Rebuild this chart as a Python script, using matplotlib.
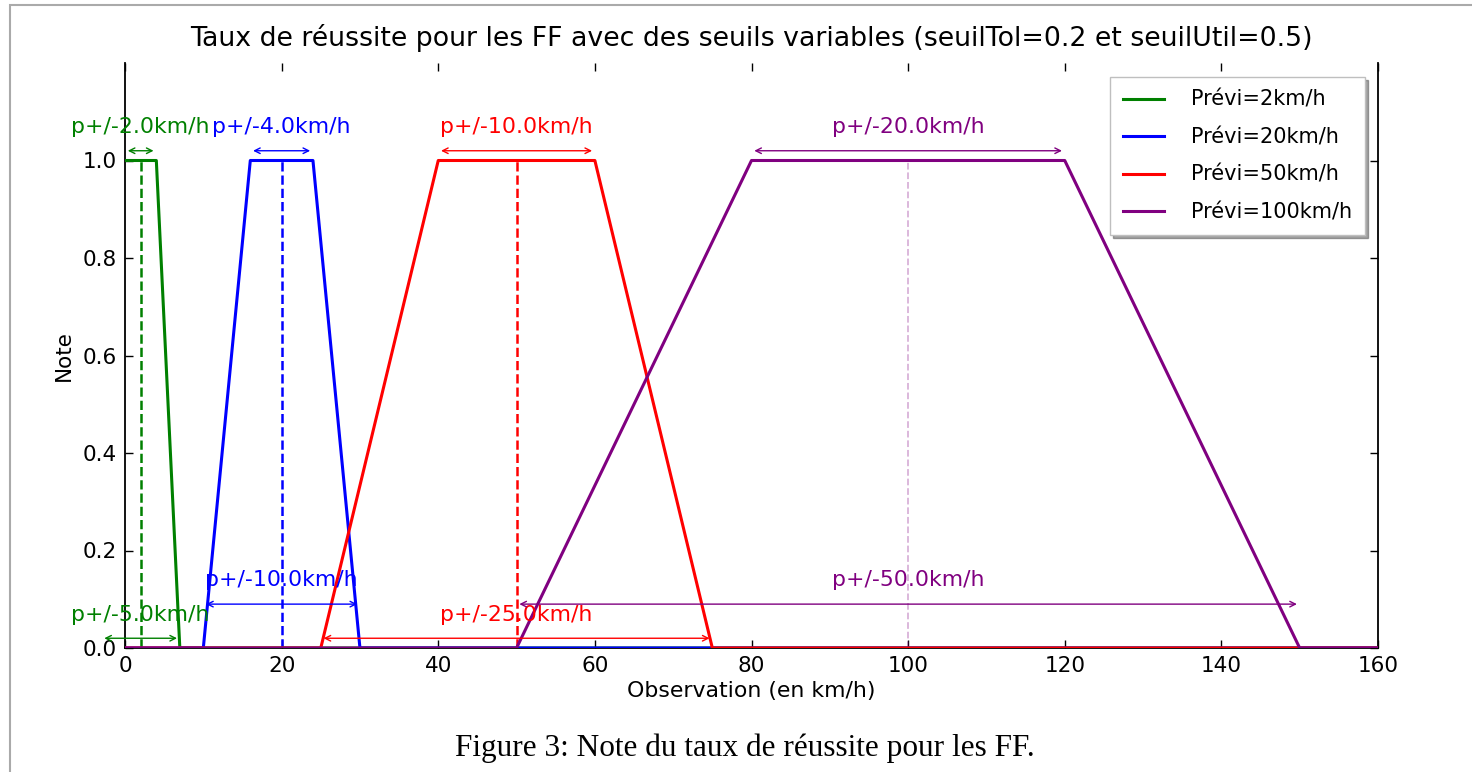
import numpy as np
import matplotlib
matplotlib.use("Agg")
import matplotlib.pyplot as plt
from matplotlib.patches import Rectangle

# ---- data ----
previ = [2, 20, 50, 100]                 # forecast values (km/h)
tol = [2.0, 4.0, 10.0, 20.0]             # tolerance half-width (note = 1)
util = [5.0, 10.0, 25.0, 50.0]           # utility half-width (note = 0)
colors = ["green", "blue", "red", "purple"]
labels = ["Prévi=2km/h", "Prévi=20km/h", "Prévi=50km/h", "Prévi=100km/h"]
arrow_top_y = [1.02, 1.02, 1.02, 1.02]
arrow_bot_y = [0.02, 0.09, 0.02, 0.09]
xticks = [0, 20, 40, 60, 80, 100, 120, 140, 160]
yticks = [0.0, 0.2, 0.4, 0.6, 0.8, 1.0]

plt.rcParams['font.family'] = ['DejaVu Sans']

W, H = 1472, 772
fig = plt.figure(figsize=(W / 100, H / 100), dpi=100)
ax = fig.add_axes([125 / W, 1 - 648 / H, (1378 - 125) / W, (648 - 63) / H])

x = np.linspace(0, 160, 3201)
for p, t, u, c, lab in zip(previ, tol, util, colors, labels):
    y = np.interp(x, [p - u, p - t, p + t, p + u], [0, 1, 1, 0], left=0, right=0)
    ax.plot(x, y, color=c, lw=2.2, label=lab, zorder=3)

for i, (p, t, u, c) in enumerate(zip(previ, tol, util, colors)):
    if c == "purple":
        ax.vlines(p, 0, 1, colors=c, linestyles="--", lw=1.3, alpha=0.3)
    else:
        ax.vlines(p, 0, 1, colors=c, linestyles="--", lw=1.8)
    ap = dict(arrowstyle="<->", color=c, lw=1.0, shrinkA=2, shrinkB=2)
    ax.annotate("", xy=(p - t, arrow_top_y[i]), xytext=(p + t, arrow_top_y[i]),
                arrowprops=ap, annotation_clip=False)
    ax.text(p, arrow_top_y[i] + 0.028, "p+/-%.1fkm/h" % t, color=c, ha="center",
            va="bottom", fontsize=15.8, clip_on=False)
    ax.annotate("", xy=(p - u, arrow_bot_y[i]), xytext=(p + u, arrow_bot_y[i]),
                arrowprops=ap, annotation_clip=False)
    ax.text(p, arrow_bot_y[i] + 0.028, "p+/-%.1fkm/h" % u, color=c, ha="center",
            va="bottom", fontsize=15.8, clip_on=False)

ax.set_xlim(0, 160)
ax.set_ylim(0, 1.2)
ax.set_xticks(xticks)
ax.set_yticks(yticks)
ax.set_xticklabels([str(v) for v in xticks])
ax.set_yticklabels(["%.1f" % v for v in yticks])
ax.tick_params(direction="in", top=True, right=True, length=6, width=1,
               labelsize=15.5, pad=6)
ax.spines["top"].set_visible(False)
for s in ["left", "bottom", "right"]:
    ax.spines[s].set_linewidth(1.3)

ax.set_title("Taux de réussite pour les FF avec des seuils variables (seuilTol=0.2 et seuilUtil=0.5)",
             fontsize=19.3, pad=12)
ax.set_xlabel("Observation (en km/h)", fontsize=15.8, labelpad=3)
ax.set_ylabel("Note", fontsize=15.5, labelpad=6)

leg = ax.legend(loc="upper right", fontsize=15, handlelength=1.95, labelspacing=0.84,
                handletextpad=1.3, borderpad=0.62, borderaxespad=0.0, fancybox=False,
                shadow=True, bbox_to_anchor=(1 - 13 / 1253, 1 - 14 / 585))
leg.get_frame().set_edgecolor("0.75")
leg.get_frame().set_linewidth(1.0)

# document frame & caption
fig.patches.append(Rectangle((10 / W, -0.1), 2, 1 - 5 / H + 0.1, transform=fig.transFigure,
                             fill=False, edgecolor="#aaaaaa", lw=1.5))
fig.text(745 / W, 1 - 748 / H, "Figure 3: Note du taux de réussite pour les FF.",
         ha="center", va="center", fontsize=22.5, family=["Liberation Serif", "DejaVu Serif"])

fig.savefig("out.png", dpi=100)
